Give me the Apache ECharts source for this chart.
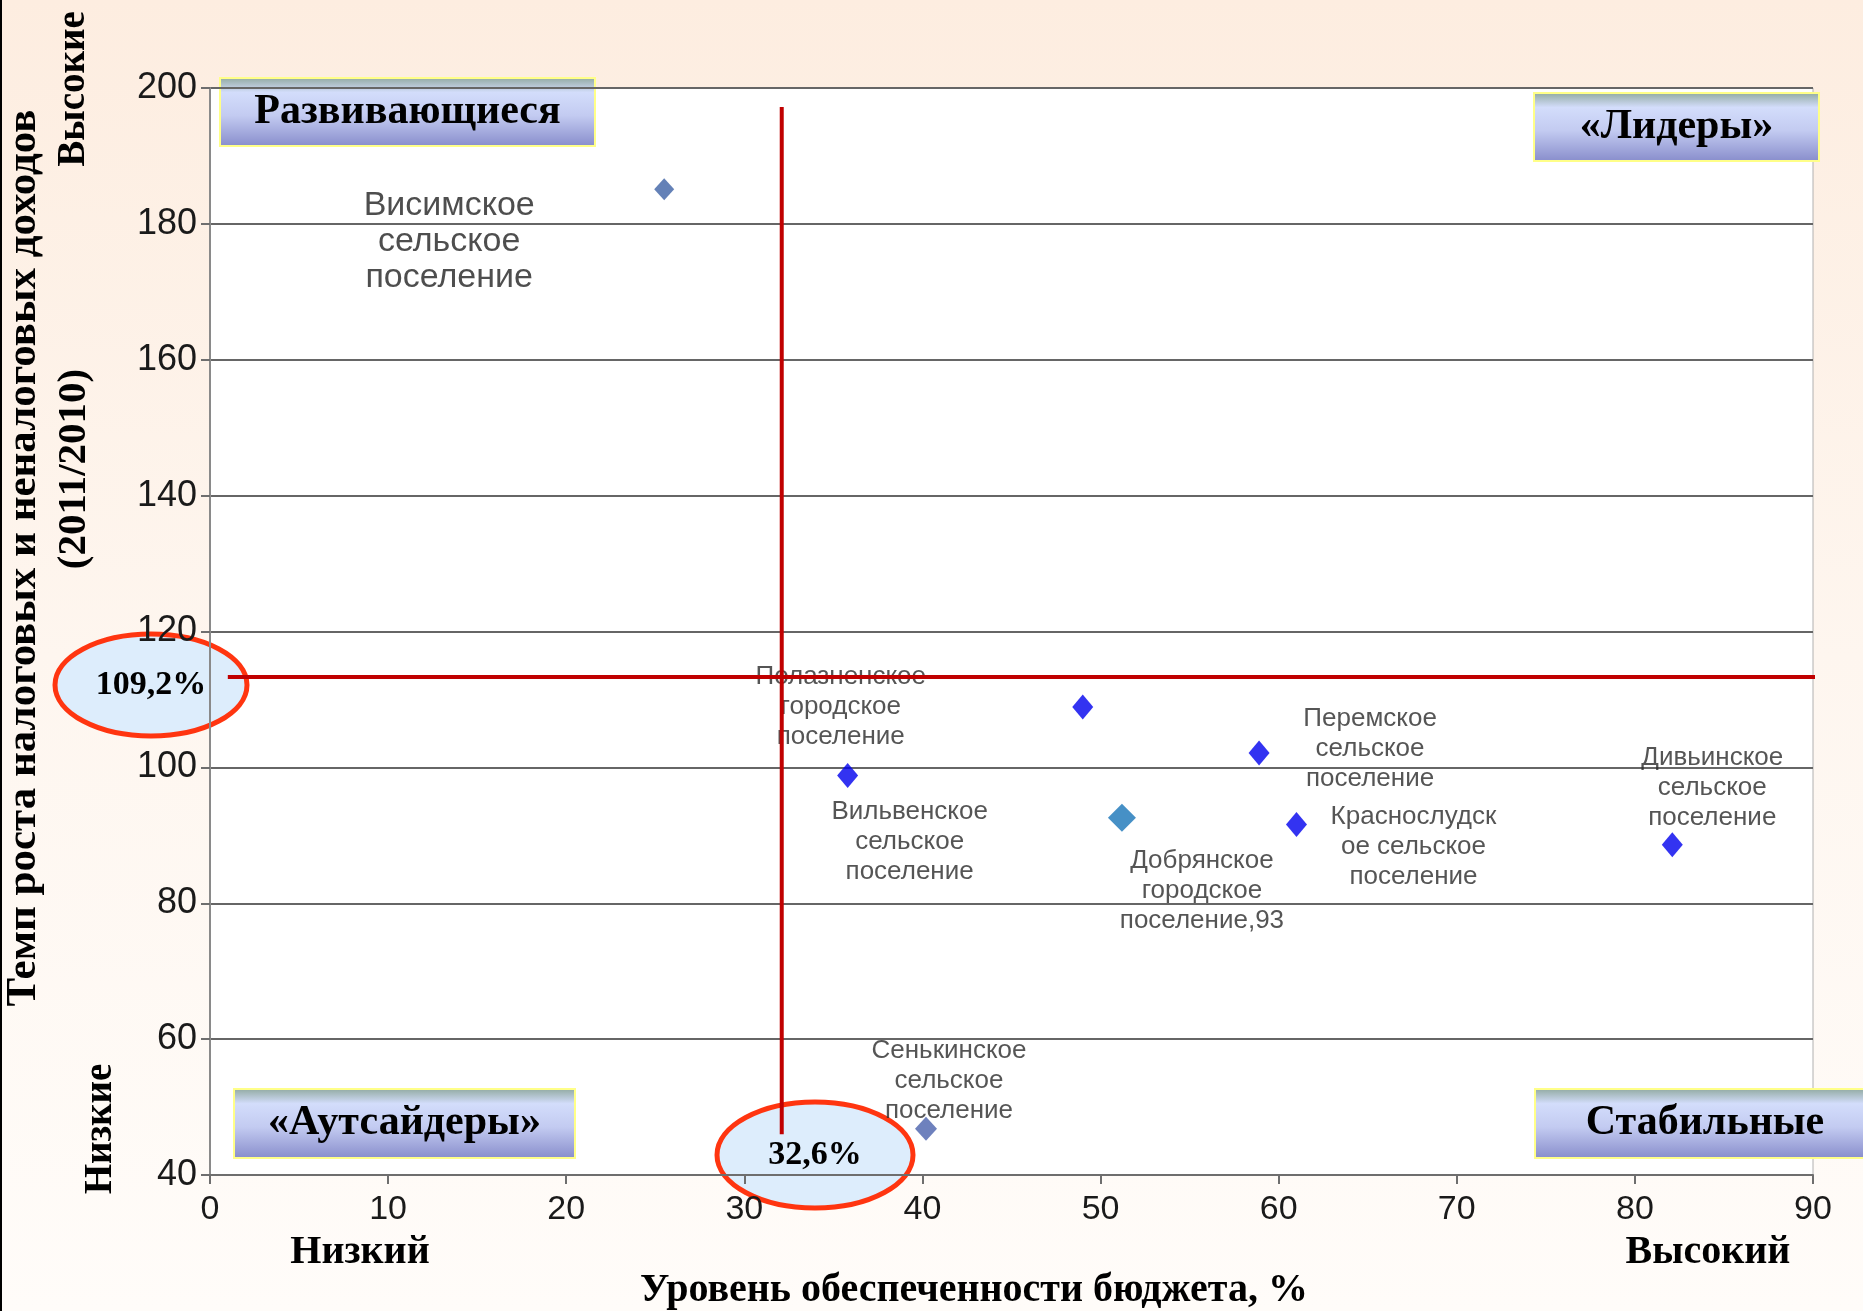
<!DOCTYPE html>
<html>
<head>
<meta charset="utf-8">
<script src="https://cdn.jsdelivr.net/npm/echarts@6/dist/echarts.min.js"></script>
<style>
  html, body { margin: 0; padding: 0; }
  #chart { width: 1863px; height: 1311px; }
</style>
</head>
<body>
<div id="chart"></div>
<script>
// settlements: budget provision level (%) vs growth rate of tax & non-tax revenue
const names = [
  'Висимское\nсельское\nпоселение',
  'Полазненское\nгородское\nпоселение',
  'Вильвенское\nсельское\nпоселение',
  'Добрянское\nгородское\nпоселение,93',
  'Перемское\nсельское\nпоселение',
  'Краснослудск\nое сельское\nпоселение',
  'Дивьинское\nсельское\nпоселение',
  'Сенькинское\nсельское\nпоселение'
];
const provision = [25.5, 49.0, 35.8, 51.2, 58.9, 61.0, 82.1, 40.2];
const growth = [185.1, 108.9, 98.8, 92.6, 102.1, 91.6, 88.6, 46.8];

const xTicks = { min: 0, max: 90, step: 10 };
const yTicks = { min: 40, max: 200, step: 20 };

// red threshold lines (as drawn)
const vLine = [[32.1, 197.2], [32.1, 46]];
const hLine = [[1, 113.3], [91.5, 113.3]];
const vLabel = '32,6%';
const hLabel = '109,2%';

const quadrants = ['Развивающиеся', '«Лидеры»', '«Аутсайдеры»', 'Стабильные'];

// label offsets relative to the marker
const labelOffsets = [[-215, 52], [-242, 0], [62, 66], [80, 73], [111, -4], [117, 22], [40, -57], [23, -48]];
const blue = { color: '#0000ee', size: [21, 25] };
const pointStyles = [
  { color: '#3d62a5', size: [20, 22], font: 34, lh: 36 },
  blue, blue,
  { color: '#1874b8', size: [28, 28] },
  blue, blue, blue,
  { color: '#4a62ad', size: [22, 24] }
];

const chartDom = document.getElementById('chart');
const myChart = echarts.init(chartDom);

const scatterData = provision.map((x, i) => {
  const st = pointStyles[i];
  return {
    value: [x, growth[i]],
    name: names[i],
    symbolSize: st.size,
    itemStyle: { color: st.color },
    label: {
      offset: labelOffsets[i],
      fontSize: st.font || 26,
      lineHeight: st.lh || 30,
      color: i === 0 ? '#222' : '#2a2a2a'
    }
  };
});

const serifBold = { fontFamily: 'Liberation Serif', fontWeight: 'bold', fill: '#000' };

function quadBox(x, y, w, h, text) {
  return {
    type: 'group',
    x: x, y: y, z: 50,
    children: [
      {
        type: 'rect',
        shape: { width: w, height: h },
        style: {
          fill: new echarts.graphic.LinearGradient(0, 0, 0, 1, [
            { offset: 0, color: '#8fa89e' },
            { offset: 0.22, color: '#d3ddfb' },
            { offset: 0.55, color: '#c3cbf1' },
            { offset: 1, color: '#878ccb' }
          ]),
          stroke: '#ffff88',
          lineWidth: 2
        }
      },
      {
        type: 'text',
        x: w / 2, y: h / 2,
        style: Object.assign({ text: text, fontSize: 42, align: 'center', verticalAlign: 'middle' }, serifBold)
      }
    ]
  };
}

function oval(cx, cy, rx, ry, text) {
  return {
    type: 'group',
    x: cx, y: cy, z: 60,
    children: [
      {
        type: 'ellipse',
        shape: { cx: 0, cy: 0, rx: rx, ry: ry },
        style: { fill: '#ddedfc', stroke: '#ff3510', lineWidth: 5 }
      },
      {
        type: 'text',
        style: Object.assign({ text: text, fontSize: 34, align: 'center', verticalAlign: 'middle' }, serifBold)
      }
    ]
  };
}

function rotText(x, y, text, size) {
  return {
    type: 'text',
    x: x, y: y, rotation: Math.PI / 2, z: 40,
    style: Object.assign({ text: text, fontSize: size, align: 'center', verticalAlign: 'middle' }, serifBold)
  };
}

function flatText(x, y, text, size) {
  return {
    type: 'text',
    x: x, y: y, z: 40,
    style: Object.assign({ text: text, fontSize: size, align: 'center', verticalAlign: 'middle' }, serifBold)
  };
}

const option = {
  backgroundColor: new echarts.graphic.LinearGradient(0, 0, 0, 1, [
    { offset: 0, color: '#fdede0' },
    { offset: 0.5, color: '#fef6ef' },
    { offset: 1, color: '#fffcf9' }
  ]),
  animation: false,
  grid: {
    show: true,
    left: 210,
    right: 50,
    top: 88,
    bottom: 136,
    backgroundColor: '#fff',
    borderColor: '#b0b0b0',
    borderWidth: 1
  },
  xAxis: {
    type: 'value',
    min: xTicks.min,
    max: xTicks.max,
    interval: xTicks.step,
    axisLine: { show: true, lineStyle: { color: '#6e6e6e', width: 2 } },
    axisTick: { show: true, length: 9, lineStyle: { color: '#6e6e6e', width: 2 } },
    splitLine: { show: false },
    axisLabel: { fontSize: 34, color: '#1a1a1a', margin: 18, fontFamily: 'Liberation Sans' }
  },
  yAxis: {
    type: 'value',
    min: yTicks.min,
    max: yTicks.max,
    interval: yTicks.step,
    axisLine: { show: true, lineStyle: { color: '#8a8a8a', width: 2 } },
    axisTick: { show: true, length: 9, lineStyle: { color: '#6e6e6e', width: 2 } },
    splitLine: { show: true, lineStyle: { color: '#666', width: 2 } },
    axisLabel: { fontSize: 36, color: '#1a1a1a', margin: 13, fontFamily: 'Liberation Sans' }
  },
  series: [
    {
      type: 'scatter',
      symbol: 'diamond',
      z: 2,
      label: {
        show: true,
        position: 'inside',
        formatter: (p) => p.name,
        align: 'center',
        verticalAlign: 'middle',
        fontFamily: 'Liberation Sans'
      },
      data: scatterData
    },
    {
      type: 'line',
      z: 5,
      clip: false,
      symbol: 'none',
      lineStyle: { color: '#c00000', width: 4 },
      data: vLine
    },
    {
      type: 'line',
      z: 5,
      clip: false,
      symbol: 'none',
      lineStyle: { color: '#c00000', width: 4 },
      data: hLine
    }
  ],
  graphic: [
    { type: 'rect', x: 0, y: 0, z: 70, shape: { width: 2, height: 1311 }, style: { fill: '#000' } },
    quadBox(220, 78, 375, 68, quadrants[0]),
    quadBox(1534, 93, 285, 68, quadrants[1]),
    quadBox(234, 1089, 341, 69, quadrants[2]),
    quadBox(1535, 1089, 340, 69, quadrants[3]),
    oval(151, 685, 96, 51, hLabel),
    oval(815, 1155, 98, 53, vLabel),
    rotText(24, 558, 'Темп роста налоговых и неналоговых доходов', 43),
    rotText(74, 469, '(2011/2010)', 41),
    rotText(74, 89, 'Высокие', 39),
    rotText(101, 1129, 'Низкие', 39),
    flatText(360, 1253, 'Низкий', 40),
    flatText(1708, 1253, 'Высокий', 40),
    flatText(974, 1291, 'Уровень обеспеченности бюджета, %', 40)
  ]
};

myChart.setOption(option);
</script>
</body>
</html>
